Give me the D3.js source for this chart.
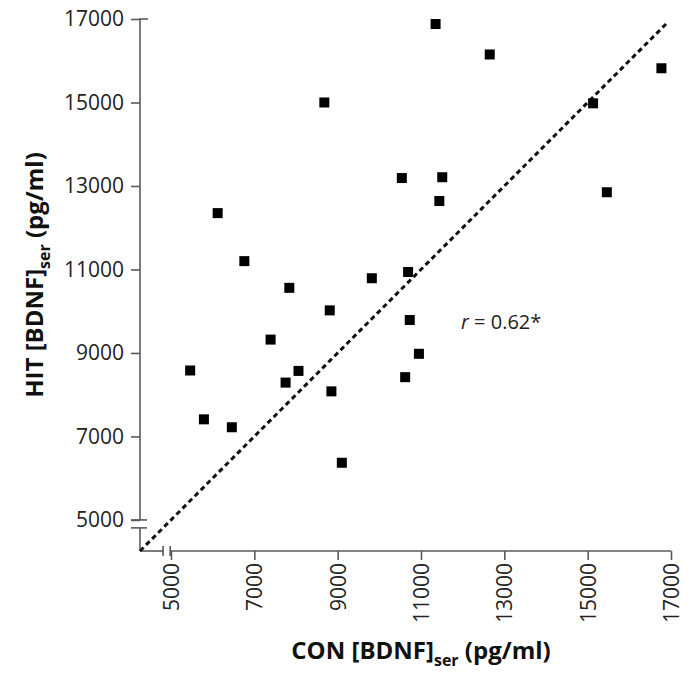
<!DOCTYPE html>
<html>
<head>
	<meta charset="UTF-8">
	<title>CON vs HIT BDNF</title>
	<script type="text/javascript" src="https://cdn.jsdelivr.net/npm/d3@7"></script>
	<style>
		body { margin: 0; background: #fff; }
		text { font-family: "Open Sans", sans-serif; }
	</style>
</head>
<body>

<script type="text/javascript">
	var w = 694;
	var h = 674;

	// serum BDNF, pg/ml
	var conValues = [11350, 12650, 16770, 8680, 15130, 6120, 10540, 11510, 11440, 15460,
	                 6760, 7840, 9820, 10690, 8810, 10730, 7390, 5460, 8060, 7750,
	                 8850, 10950, 10620, 5790, 6460, 9100];
	var hitValues = [16880, 16150, 15820, 15000, 14980, 12350, 13190, 13210, 12640, 12850,
	                 11200, 10560, 10790, 10940, 10020, 9790, 9320, 8580, 8570, 8290,
	                 8080, 8980, 8420, 7410, 7220, 6370];
	var tickValues = [5000, 7000, 9000, 11000, 13000, 15000, 17000];
	var axisMin = 4256;
	var breakLow = 4810;
	var lineStart = 4256, lineEnd = 16920;
	var rLabel = "0.62*";

	var x = d3.scaleLinear()
		.domain([axisMin, 17000])
		.range([140, 671]);

	var y = d3.scaleLinear()
		.domain([axisMin, 17000])
		.range([551, 19]);

	var svg = d3.select("body")
		.append("svg")
		.attr("width", w)
		.attr("height", h);

	var axisColor = "#5a5a5a";

	// y axis
	var yAxis = svg.append("g")
		.attr("transform", "translate(" + x(axisMin) + ",0)")
		.call(d3.axisLeft(y).tickValues(tickValues).tickSize(9).tickPadding(7).tickFormat(d3.format("d")));
	yAxis.select(".domain").remove();
	yAxis.selectAll(".tick line").attr("stroke", axisColor).attr("stroke-width", 1.6);
	yAxis.selectAll(".tick text").attr("font-size", 21).attr("fill", "#222");

	// x axis
	var xAxis = svg.append("g")
		.attr("transform", "translate(0," + y(axisMin) + ")")
		.call(d3.axisBottom(x).tickValues(tickValues).tickSize(9).tickFormat(d3.format("d")));
	xAxis.select(".domain").remove();
	xAxis.selectAll(".tick line").attr("stroke", axisColor).attr("stroke-width", 1.6);
	xAxis.selectAll(".tick text")
		.attr("font-size", 21)
		.attr("fill", "#222")
		.attr("text-anchor", "end")
		.attr("transform", "rotate(-90)")
		.attr("x", -12)
		.attr("y", 0)
		.attr("dy", "0.35em");

	// broken axis lines
	var axisLines = svg.append("g")
		.attr("stroke", axisColor)
		.attr("stroke-width", 1.6)
		.attr("fill", "none");

	axisLines.append("line")
		.attr("x1", x(axisMin)).attr("x2", x(axisMin))
		.attr("y1", y(17000)).attr("y2", y(5000));
	axisLines.append("line")
		.attr("x1", x(axisMin)).attr("x2", x(axisMin))
		.attr("y1", y(breakLow)).attr("y2", y(axisMin));
	axisLines.append("line")
		.attr("x1", x(axisMin) - 1).attr("x2", x(axisMin) + 8)
		.attr("y1", y(17000)).attr("y2", y(17000));
	[5000, breakLow].forEach(function(v){
		axisLines.append("line")
			.attr("x1", x(axisMin) - 9).attr("x2", x(axisMin) + 7)
			.attr("y1", y(v)).attr("y2", y(v));
	});

	axisLines.append("line")
		.attr("x1", x(axisMin)).attr("x2", x(breakLow))
		.attr("y1", y(axisMin)).attr("y2", y(axisMin));
	axisLines.append("line")
		.attr("x1", x(4980)).attr("x2", x(17000))
		.attr("y1", y(axisMin)).attr("y2", y(axisMin));
	[breakLow, 4980].forEach(function(v){
		axisLines.append("line")
			.attr("x1", x(v)).attr("x2", x(v))
			.attr("y1", y(axisMin) - 5).attr("y2", y(axisMin) + 5);
	});

	// identity line
	svg.append("line")
		.attr("x1", x(lineStart)).attr("y1", y(lineStart))
		.attr("x2", x(lineEnd)).attr("y2", y(lineEnd))
		.attr("stroke", "#111")
		.attr("stroke-width", 3)
		.attr("stroke-dasharray", "5,3.6");

	// points
	var size = 10;
	svg.selectAll(".pt")
		.data(conValues)
		.enter()
		.append("rect")
		.classed("pt", true)
		.attr("x", function(d){ return x(d) - size / 2; })
		.attr("y", function(d, i){ return y(hitValues[i]) - size / 2; })
		.attr("width", size)
		.attr("height", size)
		.attr("fill", "#000");

	// correlation label
	var rText = svg.append("text")
		.attr("x", 461)
		.attr("y", 329)
		.attr("font-size", 20)
		.attr("fill", "#222");
	rText.append("tspan").attr("font-style", "italic").text("r");
	rText.append("tspan").text(" = " + rLabel);

	// axis titles
	function title(sel, main){
		sel.append("tspan").text(main);
		sel.append("tspan").attr("font-size", 16).attr("dy", 7).text("ser");
		sel.append("tspan").attr("dy", -7).text(" (pg/ml)");
	}

	var xTitle = svg.append("text")
		.attr("x", 421)
		.attr("y", 659)
		.attr("text-anchor", "middle")
		.attr("font-size", 24)
		.attr("font-weight", "bold")
		.attr("fill", "#111");
	title(xTitle, "CON [BDNF]");

	var yTitle = svg.append("text")
		.attr("transform", "translate(43,275) rotate(-90)")
		.attr("text-anchor", "middle")
		.attr("font-size", 24)
		.attr("font-weight", "bold")
		.attr("fill", "#111");
	title(yTitle, "HIT [BDNF]");
</script>

</body>
</html>
